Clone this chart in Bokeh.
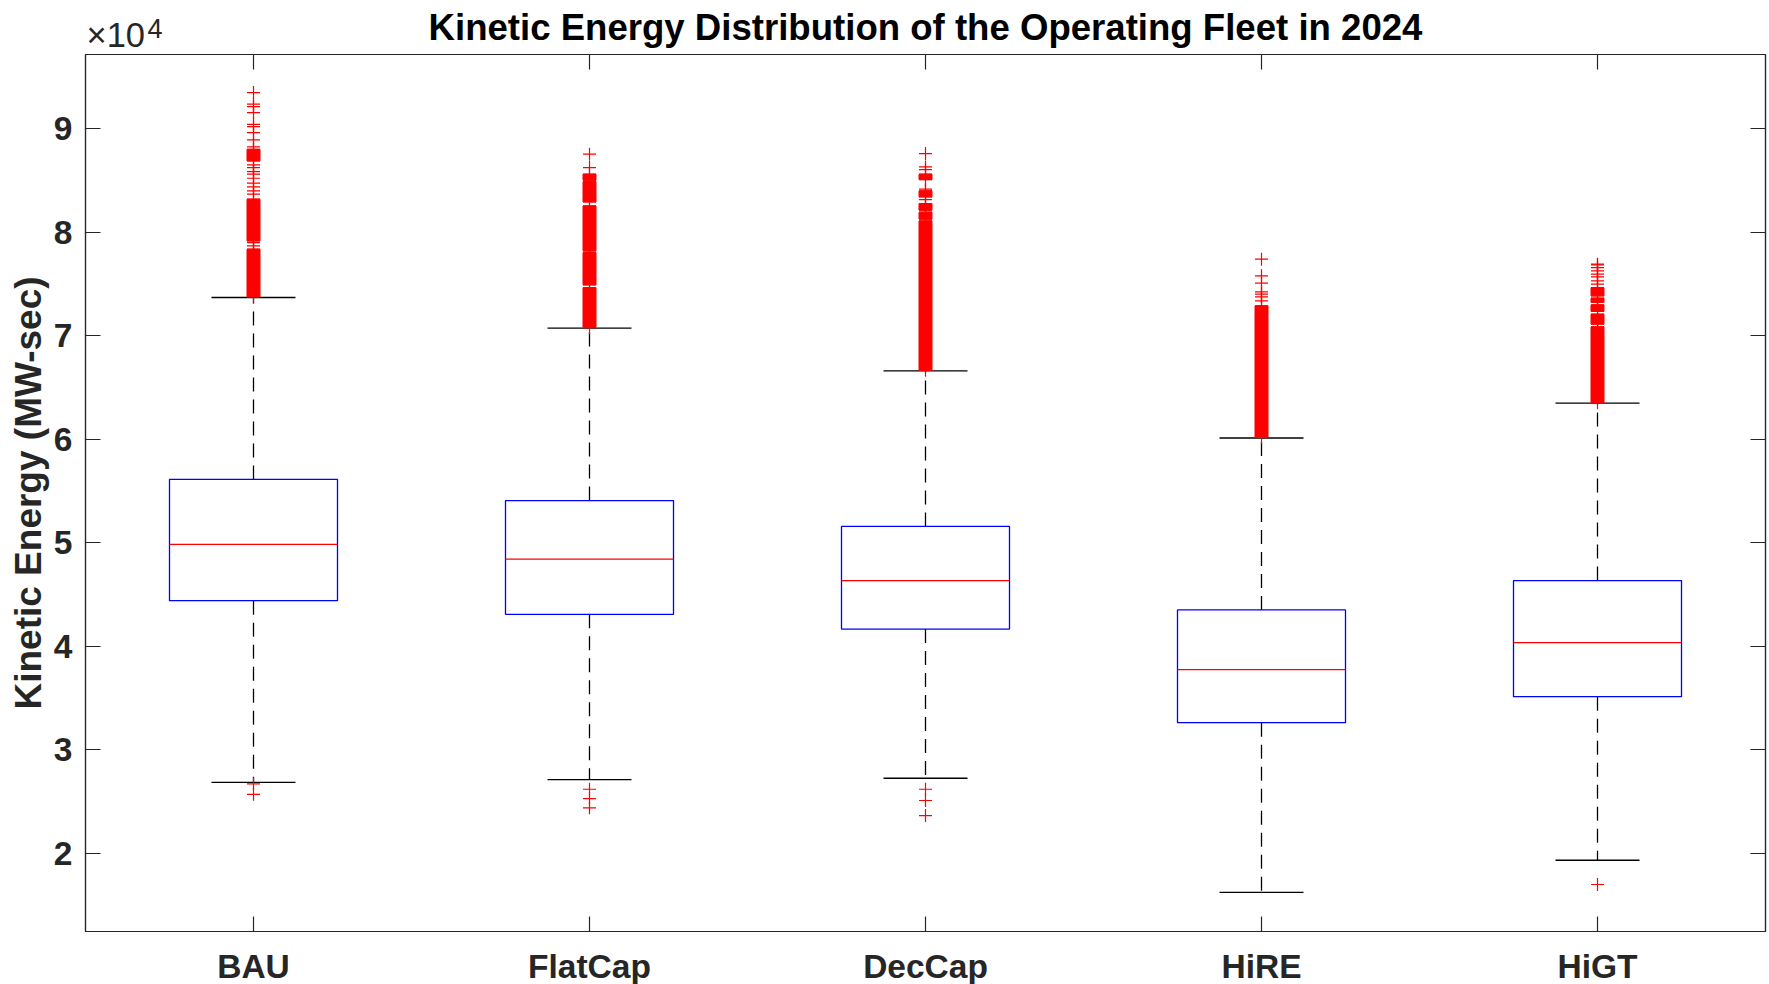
import numpy as np
from bokeh.plotting import figure
from bokeh.models import Range1d, FixedTicker, LinearAxis, Title, ColumnDataSource
from bokeh.embed import file_html
from bokeh.resources import INLINE

# ---------------- data (MW-sec) ----------------
categories = ["BAU", "FlatCap", "DecCap", "HiRE", "HiGT"]
q1 = [44410, 43090, 41670, 32630, 35140]
median = [49850, 48420, 46350, 37750, 40360]
q3 = [56120, 54080, 51580, 43520, 46350]
lower_whisker = [26870, 27130, 27260, 16230, 19340]
upper_whisker = [73690, 70730, 66610, 60120, 63490]

outliers_bau = [93480, 92360, 92130, 91550, 90420, 90190, 89610, 88910, 88230,
                86500, 86240, 85850, 85600, 85210, 84730, 84370, 83990, 83670,
                79000, 78680, 26720, 25710]
outliers_flatcap = [87530, 86240, 26200, 25300, 24400]
outliers_deccap = [87590, 86300, 86050, 84150, 83150, 26200, 25110, 23660]
outliers_hire = [77390, 75780, 75080, 74240, 74010, 73760, 73370]
outliers_higt = [76910, 76840, 76580, 76260, 75940, 75680, 75290, 74980, 17000]

# dense runs of outliers (overlapping markers), as (low, high)
dense_bau = [(86880, 88010), (79160, 83190), (73750, 78360)]
dense_flatcap = [(85020, 85600), (82920, 84890), (78200, 82540), (74910, 78040), (70780, 74650)]
dense_deccap = [(85080, 85600), (83410, 83990), (82120, 82760), (81250, 81930), (66660, 81090)]
dense_hire = [(60170, 72890)]
dense_higt = [(73850, 74650), (73210, 73630), (72340, 72980), (71120, 72080), (63540, 70860)]

y_ticks = [20000, 30000, 40000, 50000, 60000, 70000, 80000, 90000]
y_min, y_max = 12460, 97160

# ---------------- figure ----------------
xs = list(range(1, len(categories) + 1))
FONT = "Liberation Sans"
AX = "#262626"
FRAME_W, FRAME_H = 1680, 877

p = figure(frame_width=FRAME_W, frame_height=FRAME_H, output_backend="svg", toolbar_location=None,
           x_range=Range1d(0.5, len(categories) + 0.5), y_range=Range1d(y_min, y_max),
           min_border_left=85, min_border_right=3, min_border_top=54, min_border_bottom=45)

# main title (outermost panel above)
p.title.text = "Kinetic Energy Distribution of the Operating Fleet in 2024"
p.title.text_font = FONT
p.title.text_font_size = "36.6px"
p.title.text_font_style = "bold"
p.title.text_color = "#000000"
p.title.align = "center"
p.title.vertical_align = "middle"
p.title.standoff = -40.9
p.title.offset = 0

p.grid.visible = False
p.background_fill_color = "white"
p.border_fill_color = "white"
p.outline_line_color = AX
p.outline_line_width = 1.2

def style_axis(ax, labels=True):
    ax.axis_line_color = AX
    ax.axis_line_width = 1.2
    ax.major_tick_line_color = AX
    ax.major_tick_line_width = 1.2
    ax.major_tick_in = 15
    ax.major_tick_out = 0
    ax.minor_tick_line_color = None
    if labels:
        ax.major_label_text_font = FONT
        ax.major_label_text_font_size = "33.5px"
        ax.major_label_text_font_style = "bold"
        ax.major_label_text_color = AX
    else:
        ax.major_label_text_font_size = "1px"
        ax.major_label_text_color = None
        ax.major_label_standoff = 0
        ax.axis_label_standoff = 0

xt = FixedTicker(ticks=xs)
yt = FixedTicker(ticks=y_ticks)

p.xaxis.ticker = xt
p.xaxis.major_label_overrides = {x: c for x, c in zip(xs, categories)}
p.xaxis.major_label_standoff = 16
style_axis(p.xaxis[0])

p.yaxis.ticker = yt
p.yaxis.major_label_overrides = {t: f"{t // 10000}" for t in y_ticks}
p.yaxis.major_label_standoff = 13
p.yaxis.axis_label = "Kinetic Energy (MW-sec)"
p.yaxis.axis_label_text_font = FONT
p.yaxis.axis_label_text_font_size = "37px"
p.yaxis.axis_label_text_font_style = "bold"
p.yaxis.axis_label_text_color = AX
p.yaxis.axis_label_standoff = 2
style_axis(p.yaxis[0])

# mirrored ticks on top and right (box on)
top_ax = LinearAxis(ticker=xt)
style_axis(top_ax, labels=False)
p.add_layout(top_ax, "above")

right_ax = LinearAxis(ticker=yt)
style_axis(right_ax, labels=False)
p.add_layout(right_ax, "right")

# invisible spacer between the top ticks and the exponent label
spacer = LinearAxis(ticker=xt)
style_axis(spacer, labels=False)
spacer.axis_line_color = None
spacer.major_tick_line_color = None
spacer.major_tick_in = 0
spacer.major_tick_out = 13
p.add_layout(spacer, "above")

# axis exponent "×10^4"
exp_base = Title(text="×10", align="left", vertical_align="middle", offset=1, standoff=-27.4,
                 text_font=FONT, text_font_size="34.5px", text_font_style="normal", text_color=AX)
p.add_layout(exp_base, "above")
exp_power = Title(text="4", align="left", vertical_align="middle", offset=62, standoff=-29.4,
                  text_font=FONT, text_font_size="27px", text_font_style="normal", text_color=AX)
p.add_layout(exp_power, "above")

# ---------------- boxes ----------------
src = ColumnDataSource(dict(x=xs, q1=q1, med=median, q3=q3, lo=lower_whisker, hi=upper_whisker))
BOXW = 0.5
p.segment(x0="x", y0="q3", x1="x", y1="hi", source=src, line_color="black", line_width=1.3, line_dash="14 8")
p.segment(x0="x", y0="q1", x1="x", y1="lo", source=src, line_color="black", line_width=1.3, line_dash="14 8")
cap_x0 = [x - BOXW / 4 for x in xs]
cap_x1 = [x + BOXW / 4 for x in xs]
p.segment(x0=cap_x0, y0=upper_whisker, x1=cap_x1, y1=upper_whisker, line_color="black", line_width=1.3)
p.segment(x0=cap_x0, y0=lower_whisker, x1=cap_x1, y1=lower_whisker, line_color="black", line_width=1.3)
p.vbar(x="x", width=BOXW, bottom="q1", top="q3", source=src, fill_color=None,
       line_color="#0000FF", line_width=1.3)
p.segment(x0=[x - BOXW / 2 for x in xs], y0=median, x1=[x + BOXW / 2 for x in xs], y1=median,
          line_color="#FF0000", line_width=1.3)

# ---------------- outliers ----------------
all_out = [outliers_bau, outliers_flatcap, outliers_deccap, outliers_hire, outliers_higt]
all_dense = [dense_bau, dense_flatcap, dense_deccap, dense_hire, dense_higt]
ox, oy = [], []
for x, vals in zip(xs, all_out):
    ox += [x] * len(vals)
    oy += vals
bx, blo, bhi = [], [], []
for x, runs in zip(xs, all_dense):
    for lo, hi in runs:
        bx.append(x); blo.append(lo); bhi.append(hi)
        ox += [x, x]; oy += [lo, hi]

MS = 13
px_per_unit = FRAME_W / len(categories)
p.vbar(x=bx, bottom=blo, top=bhi, width=MS / px_per_unit, fill_color="#FF0000", line_color="#FF0000",
       line_width=1)
p.scatter(ox, oy, marker="cross", size=MS, line_color="#FF0000", line_width=1.2)

open("out.html", "w").write(file_html(p, INLINE))
